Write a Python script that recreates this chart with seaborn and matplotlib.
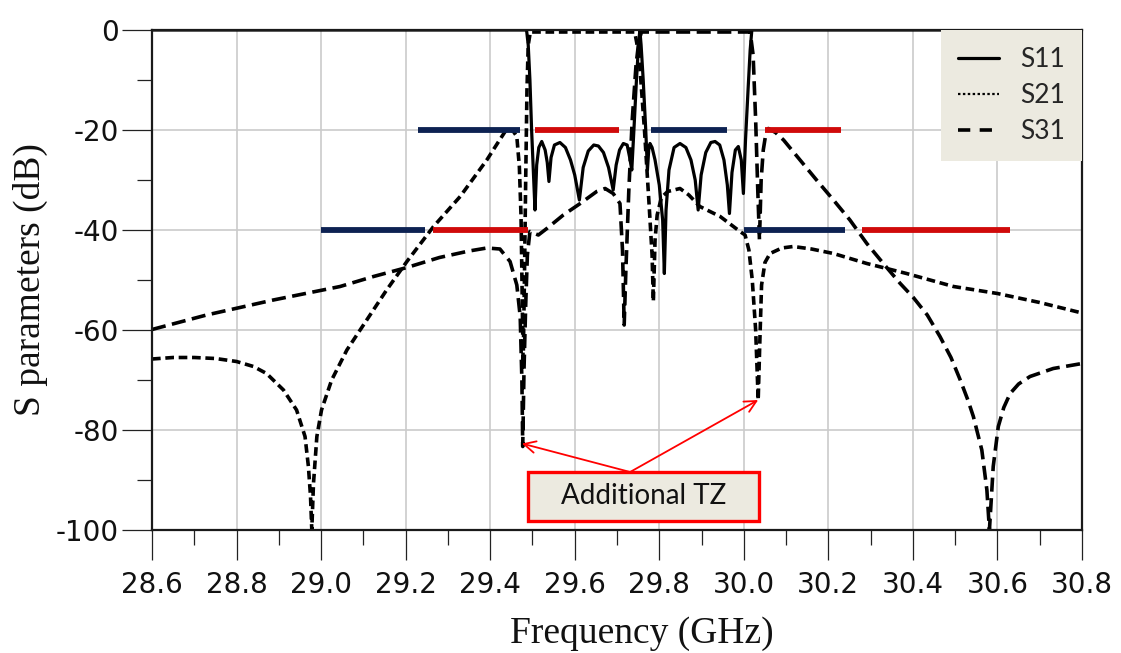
import numpy as np
import pandas as pd
import matplotlib
matplotlib.use("Agg")
import matplotlib.pyplot as plt
import seaborn as sns
from matplotlib.lines import Line2D
from matplotlib.patches import Rectangle
from matplotlib.ticker import MultipleLocator

# ---- measured responses (frequency in GHz, magnitude in dB) ----
s11_f = [28.6, 29.486, 29.49, 29.494, 29.498, 29.502, 29.506, 29.510, 29.515, 29.522,
         29.53, 29.535, 29.539, 29.544, 29.552, 29.565, 29.578, 29.59, 29.60, 29.611,
         29.62, 29.632, 29.645, 29.656, 29.668, 29.68, 29.691, 29.698, 29.706, 29.715,
         29.724, 29.73, 29.735, 29.740, 29.746, 29.751, 29.754, 29.757, 29.762, 29.768,
         29.772, 29.775, 29.778, 29.783, 29.79, 29.80, 29.808, 29.812, 29.816, 29.823,
         29.835, 29.849, 29.863, 29.875, 29.885, 29.892, 29.899, 29.91, 29.922, 29.932,
         29.943, 29.953, 29.961, 29.966, 29.972, 29.98, 29.987, 29.994, 29.999, 30.004,
         30.01, 30.015, 30.019, 30.8]
s11_db = [0.0, 0.0, -3, -10, -20, -28, -36, -27, -23.5, -22.3,
          -24, -26.5, -30.3, -25.5, -23, -22.5, -23.5, -26, -29, -34,
          -27.5, -24.2, -23, -23.2, -24.5, -27.5, -32, -27, -24, -22.7,
          -23, -25.5, -28, -20, -10, -3, 0.0, -3, -10, -20,
          -28, -24, -22.7, -23.5, -26, -31, -38, -48.7, -36, -28,
          -23.5, -22.7, -23.5, -26, -30, -36, -29, -24.5, -22.5, -22.3,
          -23, -26, -31, -36.7, -28.5, -24, -23.3, -26, -32.7, -22,
          -12, -4, 0.0, 0.0]

s21_f = [28.6, 28.65, 28.70, 28.75, 28.80, 28.84, 28.871, 28.911, 28.942, 28.962,
         28.970, 28.975, 28.978, 28.982, 28.990, 29.001, 29.025, 29.061, 29.108, 29.155,
         29.203, 29.266, 29.329, 29.392, 29.42, 29.44, 29.455, 29.463, 29.469, 29.473,
         29.476, 29.478, 29.481, 29.484, 29.487, 29.49, 29.495, 29.742, 29.752, 29.765,
         29.776, 29.783, 29.786, 29.790, 29.795, 29.805, 29.82, 29.849, 29.87, 29.896,
         29.944, 29.991, 30.003, 30.012, 30.02, 30.028, 30.034, 30.038, 30.042, 30.05,
         30.062, 30.09, 30.117, 30.16, 30.212, 30.291, 30.385, 30.496, 30.60, 30.70,
         30.8]
s21_db = [-65.8, -65.5, -65.5, -65.7, -66.3, -67.3, -68.7, -72, -76, -81.3,
          -87.3, -93.3, -100, -90.7, -81.3, -76, -70, -64, -58, -52,
          -46.3, -39.3, -33.3, -26, -22.3, -19.7, -20.3, -21.3, -27.3, -37.3,
          -55, -67, -50, -30, -12, -3, -0.4, -0.4, -5, -20,
          -35, -45, -54.3, -42, -37, -33.5, -32.3, -31.7, -33, -35.3,
          -37.3, -40.3, -41, -44, -50, -60, -74, -62, -51, -46.5,
          -44.7, -43.6, -43.3, -43.8, -44.7, -46.7, -48.7, -51.3, -52.7, -54.5,
          -56.6]

s31_f = [28.6, 28.729, 28.887, 29.045, 29.124, 29.203, 29.28, 29.35, 29.392, 29.423,
         29.447, 29.463, 29.471, 29.475, 29.477, 29.480, 29.484, 29.488, 29.494, 29.514,
         29.534, 29.573, 29.613, 29.652, 29.672, 29.691, 29.707, 29.713, 29.717, 29.721,
         29.728, 29.736, 29.745, 29.752, 29.758, 30.015, 30.022, 30.028, 30.033, 30.037,
         30.041, 30.046, 30.052, 30.058, 30.075, 30.094, 30.133, 30.172, 30.212, 30.251,
         30.291, 30.330, 30.370, 30.401, 30.434, 30.464, 30.49, 30.512, 30.53, 30.543,
         30.563, 30.575, 30.581, 30.586, 30.590, 30.602, 30.615, 30.630, 30.65, 30.677,
         30.732, 30.8]
s31_db = [-59.9, -57, -54, -51.3, -49.3, -47.5, -45.5, -44.2, -43.6, -43.8,
          -46.3, -51, -57.3, -70, -83.3, -68, -55, -45, -40.3, -41,
          -39.7, -37, -34.7, -32.3, -31.7, -32.7, -34.7, -44, -59, -48,
          -32, -18, -7, -2, -0.4, -0.4, -5, -18, -32, -42,
          -30, -24, -20.8, -19.7, -20.5, -22, -26, -30, -34, -38,
          -42.7, -46.7, -50.7, -53.5, -57, -61.3, -65.5, -70, -74, -77.3,
          -84, -92, -100, -93, -87.3, -79.3, -75.5, -72.7, -70.8, -69.3,
          -67.7, -66.7]

# ---- specification masks ----
mask_level = [-20, -20, -20, -20, -40, -40, -40, -40]
mask_start = [29.23, 29.505, 29.78, 30.05, 29.0, 29.265, 30.0, 30.28]
mask_stop = [29.47, 29.705, 29.96, 30.23, 29.245, 29.49, 30.24, 30.63]
mask_kind = ["blue", "red", "blue", "red", "blue", "red", "blue", "red"]

x_ticks = [28.6, 28.8, 29.0, 29.2, 29.4, 29.6, 29.8, 30.0, 30.2, 30.4, 30.6, 30.8]
x_tick_labels = ["28.6", "28.8", "29.0", "29.2", "29.4", "29.6", "29.8", "30.0",
                 "30.2", "30.4", "30.6", "30.8"]
y_ticks = [0, -20, -40, -60, -80, -100]
y_tick_labels = ["0", "-20", "-40", "-60", "-80", "-100"]

tz_points_f = [29.475, 30.034]
tz_points_db = [-82.7, -74.0]

sns.set_theme(style="white")
plt.rcParams["font.family"] = ["DejaVu Sans"]

mask_colors = {"blue": "#0D2252", "red": "#D00A0A"}
beige = "#ECEAE0"

fig = plt.figure(figsize=(11.21, 6.53), dpi=100)
ax = fig.add_axes([152 / 1121, 1 - 530 / 653, 930 / 1121, 500 / 653])

s11 = pd.DataFrame({"f": s11_f, "db": s11_db})
s21 = pd.DataFrame({"f": s21_f, "db": s21_db})
s31 = pd.DataFrame({"f": s31_f, "db": s31_db})

sns.lineplot(data=s21, x="f", y="db", ax=ax, color="black", lw=2.6,
             estimator=None, sort=False, zorder=2.2)
ax.lines[-1].set_dashes((2.4, 1.3))
sns.lineplot(data=s31, x="f", y="db", ax=ax, color="black", lw=2.6,
             estimator=None, sort=False, zorder=2.1)
ax.lines[-1].set_dashes((3.9, 1.8))
sns.lineplot(data=s11, x="f", y="db", ax=ax, color="black", lw=2.3,
             estimator=None, sort=False, zorder=2.3)

# specification masks
for lvl, a, b, k in zip(mask_level, mask_start, mask_stop, mask_kind):
    ax.hlines(lvl, a, b, colors=mask_colors[k], lw=4.2, zorder=3)

ax.set_xlim(28.6, 30.8)
ax.set_ylim(-100, 0)
ax.set_xticks(x_ticks)
ax.set_xticklabels(x_tick_labels)
ax.set_yticks(y_ticks)
ax.set_yticklabels(y_tick_labels)
ax.xaxis.set_minor_locator(MultipleLocator(0.1))
ax.yaxis.set_minor_locator(MultipleLocator(10))
ax.tick_params(which="major", direction="out", length=21.6, width=0.9,
               color="#222222", labelsize=20, labelcolor="#111111")
ax.tick_params(axis="x", which="major", pad=8)
ax.tick_params(axis="y", which="major", pad=2)
ax.tick_params(which="minor", direction="out", length=10.8, width=0.9,
               color="#222222")
ax.tick_params(bottom=True, left=True, which="both")
ax.grid(True, which="major", color="#CBCBCB", lw=1.2, zorder=0)
for sp in ax.spines.values():
    sp.set_visible(True)
    sp.set_color("#1A1A1A")
    sp.set_linewidth(1.6)

ax.set_xlabel("Frequency (GHz)", fontfamily="Liberation Serif", fontsize=27,
              color="#111111")
ax.set_ylabel("S parameters (dB)", fontfamily="Liberation Serif", fontsize=27,
              color="#111111")
ax.xaxis.set_label_coords(0.527, -0.172)
ax.yaxis.set_label_coords(-0.112, 0.5)

# legend
handles = [
    Line2D([0], [0], color="black", lw=2.3),
    Line2D([0], [0], color="black", lw=1.6, dashes=(1.1, 1.1)),
    Line2D([0], [0], color="black", lw=2.6, dashes=(3.4, 2.6)),
]
leg = ax.legend(handles, ["S11", "S21", "S31"], loc="upper right",
                bbox_to_anchor=(1.0, 1.0), borderaxespad=0, frameon=True,
                fancybox=False, facecolor=beige, edgecolor="none", framealpha=1,
                prop={"family": "Lato", "size": 19}, handlelength=1.55,
                handletextpad=0.8, labelspacing=0.42, borderpad=0.65)
leg.set_zorder(6)

# annotation of the additional transmission zeros
box_x0, box_x1, box_y0, box_y1 = 29.4895, 30.036, -98.2, -88.4
for tf, tdb in zip(tz_points_f, tz_points_db):
    ax.annotate("", xy=(tf, tdb), xytext=(29.731, box_y1),
                arrowprops=dict(arrowstyle="->,head_length=0.7,head_width=0.35",
                                color="#FF0000", lw=1.3, shrinkA=0, shrinkB=0),
                zorder=4)
ax.add_patch(Rectangle((box_x0, box_y0), box_x1 - box_x0, box_y1 - box_y0,
                       facecolor=beige, edgecolor="#FF0000", lw=2.4, zorder=5))
ax.text((box_x0 + box_x1) / 2, (box_y0 + box_y1) / 2, "Additional TZ",
        ha="center", va="center", fontfamily="Lato", fontsize=20,
        color="#111111", zorder=6)

fig.savefig("out.png", dpi=100, facecolor="white")
